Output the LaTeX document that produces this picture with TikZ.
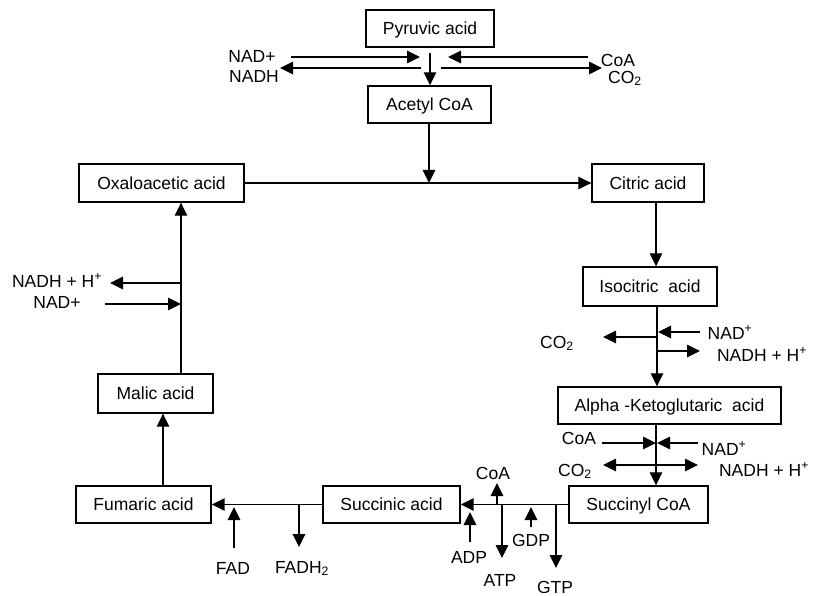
\documentclass[tikz,border=0pt]{standalone}
\usepackage{fontspec}
\setmainfont{Liberation Sans}
\usetikzlibrary{arrows.meta}
\begin{document}
\begin{tikzpicture}[x=1pt,y=-1pt,
  txt/.style={font=\fontsize{17.5}{20}\selectfont,text height=12.5pt,text depth=0pt},
  box/.style={txt,draw,line width=1.4pt,inner sep=0pt},
  lbl/.style={txt,inner sep=0pt},
  tip/.tip={Triangle[length=13pt,width=12.5pt]},
  conn/.style={line width=1.1pt,-tip},
  connb/.style={line width=1.6pt,-tip},
  plain/.style={line width=1.1pt}]
\useasboundingbox (0,0) rectangle (816,596);

% boxes
\node[box,minimum width=128pt,minimum height=37pt] (pyr) at (430,28.5) {Pyruvic acid};
\node[box,minimum width=123pt,minimum height=37pt] (acetyl) at (429.5,104.5) {Acetyl CoA};
\node[box,minimum width=165pt,minimum height=38pt] (oxalo) at (161.5,183) {Oxaloacetic acid};
\node[box,minimum width=112pt,minimum height=38pt] (citric) at (648,183) {Citric acid};
\node[box,minimum width=134pt,minimum height=39pt] (isocitric) at (650,286.5) {Isocitric\ \ acid};
\node[box,minimum width=223pt,minimum height=37pt] (alpha) at (669.5,405.5) {Alpha -Ketoglutaric\ \ acid};
\node[box,minimum width=139pt,minimum height=37pt] (succinyl) at (638.5,504.5) {Succinyl CoA};
\node[box,minimum width=137pt,minimum height=37pt] (succinic) at (391.5,504.5) {Succinic acid};
\node[box,minimum width=135pt,minimum height=37pt] (fumaric) at (143.5,504.5) {Fumaric acid};
\node[box,minimum width=115pt,minimum height=39pt] (malic) at (155.5,393.5) {Malic acid};

% labels
\node[lbl] (tNADa) at (252,56) {NAD+};
\node[lbl] (tNADHa) at (254,76) {NADH};
\node[lbl] (tCoAa) at (618,60) {CoA};
\node[lbl] (tCOa) at (625,77) {CO\textsubscript{2}};
\node[lbl] (tNADHb) at (57,281) {NADH + H\textsuperscript{+}};
\node[lbl] (tNADb) at (57,302) {NAD+};
\node[lbl] (tCOc) at (557,342) {CO\textsubscript{2}};
\node[lbl] (tNADc) at (730,333) {NAD\textsuperscript{+}};
\node[lbl] (tNADHc) at (762,355) {NADH + H\textsuperscript{+}};
\node[lbl] (tCoAd) at (579,438) {CoA};
\node[lbl] (tNADd) at (724,449) {NAD\textsuperscript{+}};
\node[lbl] (tCOd) at (575,470) {CO\textsubscript{2}};
\node[lbl] (tNADHd) at (764,470) {NADH + H\textsuperscript{+}};
\node[lbl] (tCoAe) at (493,473) {CoA};
\node[lbl] (tATP) at (500,580) {ATP};
\node[lbl] (tADP) at (469,557) {ADP};
\node[lbl] (tGDP) at (531,540) {GDP};
\node[lbl] (tGTP) at (555,587.5) {GTP};
\node[lbl] (tFADH) at (302,567) {FADH\textsubscript{2}};
\node[lbl] (tFAD) at (233,568) {FAD};

% coordinates
\coordinate (x0) at (430,0);
\coordinate (p0) at (430,53);
\coordinate (xa) at (429,0);
\coordinate (xb) at (656,0);
\coordinate (xc) at (657,0);
\coordinate (xd) at (163,0);
\coordinate (xe) at (181,0);
\coordinate (jTop) at (429,183);
\coordinate (a1s) at (291,57);   \coordinate (a1e) at (420,57);
\coordinate (a2s) at (421,68);   \coordinate (a2e) at (280,68);
\coordinate (a3s) at (588,57);   \coordinate (a3e) at (448,57);
\coordinate (a4s) at (441,68);   \coordinate (a4e) at (602,68);
\coordinate (b1s) at (181,283);  \coordinate (b1e) at (110,283);
\coordinate (b2s) at (105,304);  \coordinate (b2e) at (181,304);
\coordinate (c1s) at (657,337);  \coordinate (c1e) at (603,337);
\coordinate (c2s) at (700,332);  \coordinate (c2e) at (658,332);
\coordinate (c3s) at (657,351);  \coordinate (c3e) at (700,351);
\coordinate (d1s) at (602,443);  \coordinate (d1e) at (656,443);
\coordinate (d2s) at (698,443);  \coordinate (d2e) at (657,443);
\coordinate (d3s) at (603,465);  \coordinate (d3e) at (698,465);
\coordinate (e1s) at (497,505);  \coordinate (e1e) at (497,483);
\coordinate (e2s) at (502,505);  \coordinate (e2e) at (502,558);
\coordinate (e3s) at (470,542);  \coordinate (e3e) at (470,512);
\coordinate (e4s) at (531,527);  \coordinate (e4e) at (531,507);
\coordinate (e5s) at (556,505);  \coordinate (e5e) at (556,568);
\coordinate (f1s) at (299,505);  \coordinate (f1e) at (299,547);
\coordinate (f2s) at (234,548);  \coordinate (f2e) at (234,507);

% top
\draw[conn] (p0) -- (acetyl.north -| x0);
\draw[conn] (a1s) -- (a1e);
\draw[conn] (a2s) -- (a2e);
\draw[conn] (a3s) -- (a3e);
\draw[conn] (a4s) -- (a4e);
\draw[conn] (acetyl.south -| xa) -- (jTop);
\draw[conn] (oxalo.east) -- (citric.west);

% right side
\draw[conn] (citric.south -| xb) -- (isocitric.north -| xb);
\draw[conn] (isocitric.south -| xc) -- (alpha.north -| xc);
\draw[conn] (c1s) -- (c1e);
\draw[conn] (c2s) -- (c2e);
\draw[conn] (c3s) -- (c3e);
\draw[conn] (alpha.south -| xb) -- (succinyl.north -| xb);
\draw[conn] (d1s) -- (d1e);
\draw[conn] (d2s) -- (d2e);
\draw[line width=1.1pt,tip-tip] (d3s) -- (d3e);

% bottom
\draw[connb] (succinyl.west) -- (succinic.east);
\draw[conn] (e1s) -- (e1e);
\draw[conn] (e2s) -- (e2e);
\draw[conn] (e3s) -- (e3e);
\draw[conn] (e4s) -- (e4e);
\draw[conn] (e5s) -- (e5e);
\draw[connb] (succinic.west) -- (fumaric.east);
\draw[conn] (f1s) -- (f1e);
\draw[conn] (f2s) -- (f2e);

% left side
\draw[conn] (fumaric.north -| xd) -- (malic.south -| xd);
\draw[conn] (malic.north -| xe) -- (oxalo.south -| xe);
\draw[conn] (b1s) -- (b1e);
\draw[conn] (b2s) -- (b2e);
\end{tikzpicture}
\end{document}
